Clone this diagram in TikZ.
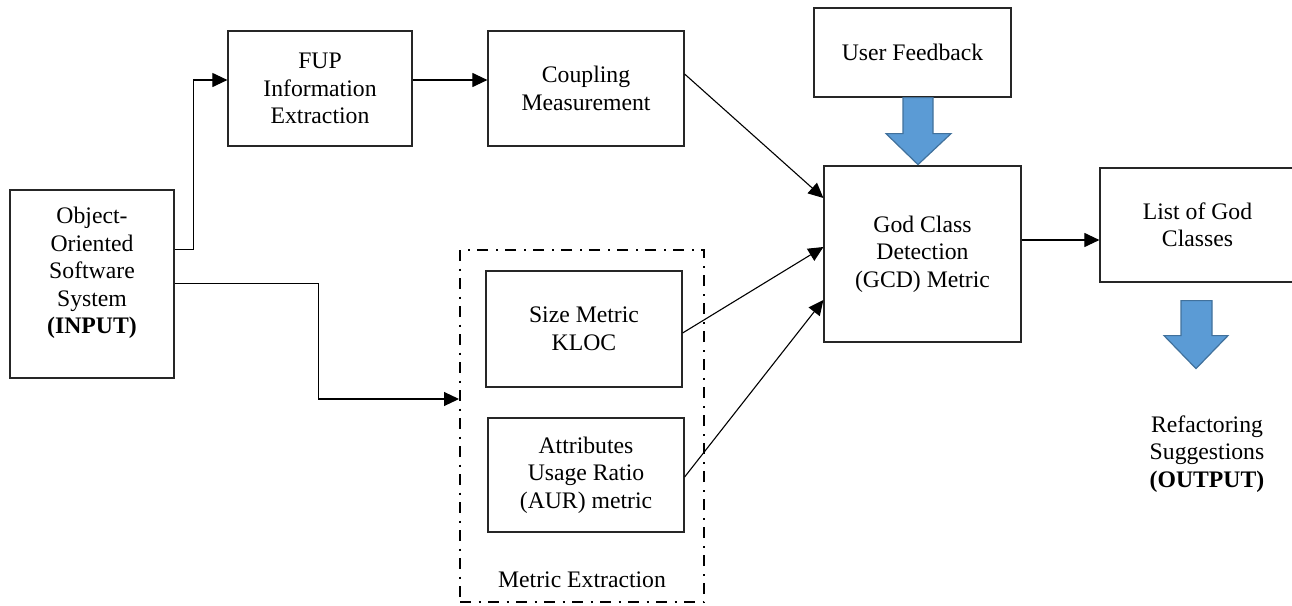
\documentclass[tikz,border=0pt]{standalone}
\usepackage{fontspec}
\setmainfont{Liberation Serif}
\usetikzlibrary{arrows.meta}

\definecolor{arrowfill}{HTML}{5B9BD5}
\definecolor{arrowedge}{HTML}{41719C}

\begin{document}
\begin{tikzpicture}[x=1pt,y=-1pt,
  lbl/.style={align=center, inner sep=0pt, font=\fontsize{23.7}{27.5}\selectfont},
  box/.style={lbl, draw=black!85, line width=1.2pt},
  group/.style={draw=black, line width=2pt, dash pattern=on 11pt off 7.5pt on 2pt off 7.5pt},
  conn/.style={line width=1.1pt, -{Triangle[length=15pt,width=14pt]}},
  blockarrow/.style={fill=arrowfill, draw=arrowedge, line width=1.2pt, line join=miter},
]
\useasboundingbox (0,0) rectangle (1292,605);

% input system
\node[box, minimum width=164pt, minimum height=188pt] (oo) at (92,284) {};
\node[lbl] (ootext) at (92,273) {Object-\\Oriented\\Software\\System\\\textbf{(INPUT)}};

% upper processing chain
\node[box, minimum width=184pt, minimum height=115pt] (fup) at (320,88.5) {FUP\\Information\\Extraction};
\node[box, minimum width=196pt, minimum height=115pt] (coup) at (586,88.5) {Coupling\\Measurement};

% metric extraction group
\node[group, minimum width=244pt, minimum height=352pt] (metric) at (582,426) {};
\node[box, minimum width=196pt, minimum height=116pt] (size) at (584,329) {Size Metric\\KLOC};
\node[box, minimum width=196pt, minimum height=114pt] (aur) at (586,475) {Attributes\\Usage Ratio\\(AUR) metric};
\node[lbl] (mlabel) at (582,580) {Metric Extraction};

% detection and feedback
\node[box, minimum width=197pt, minimum height=89pt] (user) at (912.5,52.5) {User Feedback};
\node[box, minimum width=197pt, minimum height=176pt] (gcd) at (922.5,254) {God Class\\Detection\\(GCD) Metric};

% output
\node[box, minimum width=195pt, minimum height=114pt] (list) at (1197.5,225) {List of God\\Classes};
\node[lbl] (refac) at (1207,454) {Refactoring\\Suggestions\\\textbf{(OUTPUT)}};

% connectors
\draw[conn] ([yshift=-60pt]oo.north east) -- ++(19,0) |- ([yshift=8.5pt]fup.west);
\draw[conn] ([yshift=-94pt]oo.north east) -- ++(144,0) |- ([yshift=27pt]metric.west);
\draw[conn] ([yshift=8.5pt]fup.east) -- ([yshift=8.5pt]coup.west);
\draw[conn] ([yshift=14.5pt]coup.east) -- ([yshift=56pt]gcd.west);
\draw[conn] ([yshift=-4pt]size.east) -- ([yshift=7pt]gcd.west);
\draw[conn] ([yshift=-2pt]aur.east) -- ([yshift=-46pt]gcd.west);
\draw[conn] ([yshift=14pt]gcd.east) -- ([yshift=14pt]gcd.east -| list.west);

% block arrows
\draw[blockarrow] ([xshift=-9.5pt]user.south) -- ++(30,0) -- ++(0,36) -- ++(18,0)
  -- ++(-33,31) -- ++(-32,-31) -- ++(17,0) -- cycle;
\draw[blockarrow] ([xshift=-16.5pt,yshift=-18pt]list.south) -- ++(31,0) -- ++(0,35) -- ++(16,0)
  -- ++(-32,33) -- ++(-32,-33) -- ++(17,0) -- cycle;
\end{tikzpicture}
\end{document}
